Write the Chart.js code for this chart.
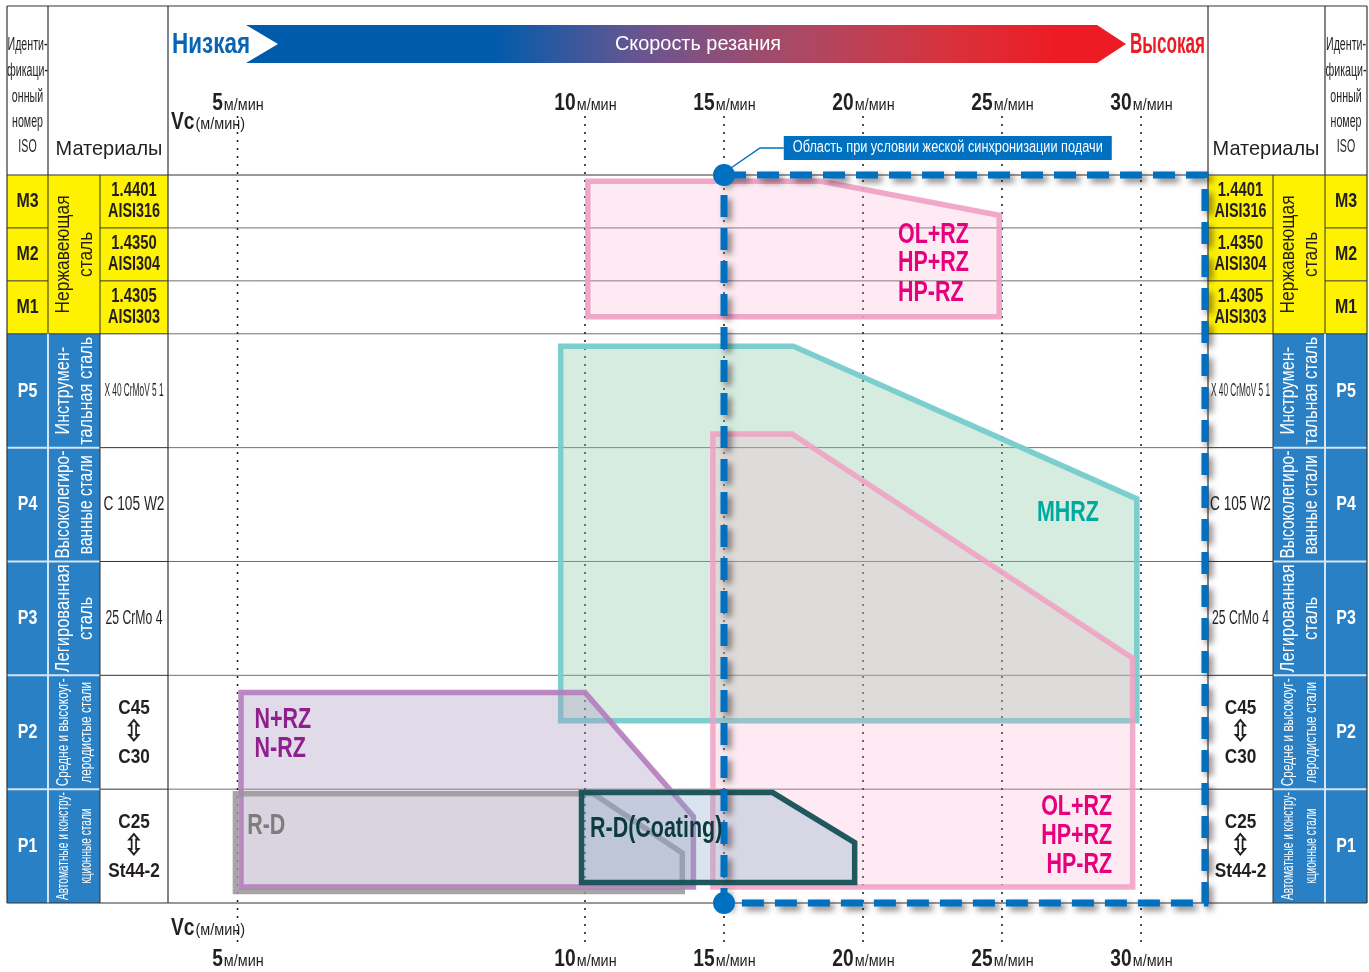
<!DOCTYPE html>
<html>
<head>
<meta charset="utf-8">
<title>Скорость резания</title>
<script src="https://cdn.jsdelivr.net/npm/chart.js@4"></script>
<style>
  html, body { margin: 0; padding: 0; background: #fff; }
  canvas { display: block; }
</style>
</head>
<body>
<canvas id="chart" width="1369" height="972"></canvas>
<script>
// скорость резания Vc, м/мин
const speedTicks = [5, 10, 15, 20, 25, 30];
// строки снизу вверх (строка = 1 единица по вертикали)
const isoCodes = ['P1', 'P2', 'P3', 'P4', 'P5', 'M1', 'M2', 'M3'];
const materialNames = [
  ['C25', '⇳', 'St44-2'], ['C45', '⇳', 'C30'], ['25 CrMo 4'], ['C 105 W2'], ['X 40 CrMoV 5 1'],
  ['1.4305', 'AISI303'], ['1.4350', 'AISI304'], ['1.4401', 'AISI316']
];
const groupRows = [[0, 1], [1, 2], [2, 3], [3, 4], [4, 5], [5, 8]];
const groupNames = [
  ['Автоматные и констру-', 'кционные стали'], ['Средне и высокоуг-', 'леродистые стали'],
  ['Легированная', 'сталь'], ['Высоколегиро-', 'ванные стали'], ['Инструмен-', 'тальная сталь'],
  ['Нержавеющая', 'сталь']
];
const isoHeader = ['Иденти-', 'фикаци-', 'онный', 'номер', 'ISO'];

// области применения: [скорость м/мин, строка]
const zoneOLTop = [[10.1, 5.32], [10.1, 7.88], [18.5, 7.88], [24.9, 7.24], [24.9, 5.32]];
const zoneMHRZ = [[9.65, 1.6], [9.65, 4.89], [17.5, 4.89], [29.85, 3.55], [29.85, 1.6]];
const zoneOL = [[14.6, 0.14], [14.6, 4.12], [17.45, 4.12], [29.7, 2.15], [29.7, 0.14]];
const zoneNRZ = [[5.05, 0.14], [5.05, 1.85], [10, 1.85], [13.9, 0.76], [13.9, 0.14]];
const zoneRD = [[4.97, 0.1], [4.97, 0.96], [10.3, 0.96], [13.5, 0.44], [13.5, 0.1]];
const zoneRDC = [[9.95, 0.18], [9.95, 0.97], [16.75, 0.97], [19.7, 0.53], [19.7, 0.18]];
const zoneSync = [[15, 8], [32.3, 8], [32.3, 0], [15, 0]];
const syncDots = [[15, 8], [15, 0]];

const FONT = '"Liberation Sans", Arial, sans-serif';
const BLUE = '#2a80c5', YELLOW = '#fff200', INK = '#231f20';

// ниже 10 м/мин шкала растянута в 2.5 раза, строки M уже строк P
function xPos(v) { return v >= 10 ? v : 10 - (10 - v) * 2.5; }
function yPos(r) { return r <= 5 ? r : 5 + (r - 5) * 0.465; }
function pts(list, close) {
  const p = list.map(([v, r]) => ({ x: xPos(v), y: yPos(r) }));
  if (close) p.push(p[0]);
  return p;
}

function measure(ctx, s, o) {
  ctx.save();
  ctx.font = (o.w || 'normal') + ' ' + o.size + 'px ' + (o.family || FONT);
  const w = ctx.measureText(s).width;
  ctx.restore();
  return w;
}
function txt(ctx, s, x, y, o) {
  ctx.save();
  ctx.translate(x, y);
  if (o.rot) ctx.rotate(o.rot);
  ctx.font = (o.w || 'normal') + ' ' + o.size + 'px ' + (o.family || FONT);
  let sx = o.sx || 1;
  if (o.fit) sx = o.fit / ctx.measureText(s).width;
  ctx.scale(sx, 1);
  ctx.fillStyle = o.color || INK;
  ctx.textAlign = o.align || 'center';
  ctx.textBaseline = o.base || 'middle';
  ctx.fillText(s, 0, 0);
  ctx.restore();
}
function line(ctx, x1, y1, x2, y2, color, w, dash) {
  ctx.save();
  ctx.strokeStyle = color; ctx.lineWidth = w;
  if (dash) ctx.setLineDash(dash);
  ctx.beginPath(); ctx.moveTo(x1, y1); ctx.lineTo(x2, y2); ctx.stroke();
  ctx.restore();
}
function cell(ctx, col, top, bot, color) {
  ctx.fillStyle = color;
  ctx.fillRect(col[0], top, col[1] - col[0], bot - top);
}
function unitText(ctx, big, small, x, base, align) {
  const w1 = measure(ctx, big, { w: 'bold', size: 24 }) * 0.8;
  const w2 = measure(ctx, small, { size: 17 }) * 0.85;
  const x0 = align === 'left' ? x : x - (w1 + w2) / 2;
  txt(ctx, big, x0, base, { w: 'bold', size: 24, sx: 0.8, align: 'left', base: 'alphabetic' });
  txt(ctx, small, x0 + w1 + 1, base, { size: 17, sx: 0.85, align: 'left', base: 'alphabetic' });
}

function drawSide(ctx, yb, c) {
  const top = yb(8), bot = yb(0);
  for (let i = 0; i < 8; i++) {
    const isM = i >= 5;
    cell(ctx, c.iso, yb(i + 1), yb(i), isM ? YELLOW : BLUE);
    cell(ctx, c.mat, yb(i + 1), yb(i), isM ? YELLOW : '#fff');
  }
  groupRows.forEach(([a, b]) => cell(ctx, c.grp, yb(b), yb(a), a >= 5 ? YELLOW : BLUE));
  for (let r = 1; r < 8; r++) {
    const y = yb(r);
    line(ctx, c.iso[0], y, c.iso[1], y, r < 5 ? '#d4e5f4' : '#333', r < 5 ? 2 : 1);
    line(ctx, c.mat[0], y, c.mat[1], y, '#333', 1);
    if (r < 5) line(ctx, c.grp[0], y, c.grp[1], y, '#d4e5f4', 2);
    if (r === 5) line(ctx, c.grp[0], y, c.grp[1], y, '#333', 1);
  }
  const inner = c.iso[0] < c.grp[0] ? c.iso[1] : c.iso[0];
  line(ctx, inner, top, inner, yb(5), '#333', 1);
  line(ctx, inner, yb(5), inner, bot, '#d4e5f4', 2);
  const gm = c.grp[0] < c.mat[0] ? c.grp[1] : c.grp[0];
  line(ctx, gm, top, gm, bot, '#333', 1);

  const ic = (c.iso[0] + c.iso[1]) / 2, gc = (c.grp[0] + c.grp[1]) / 2, mc = (c.mat[0] + c.mat[1]) / 2;
  for (let i = 0; i < 8; i++) {
    const isM = i >= 5, cy = (yb(i) + yb(i + 1)) / 2;
    txt(ctx, isoCodes[i], ic, cy, { w: 'bold', size: 21, sx: 0.76, color: isM ? INK : '#fff' });
    const m = materialNames[i];
    if (m.length === 3) {
      txt(ctx, m[0], mc, cy - 24, { w: 'bold', size: 21, sx: 0.82 });
      txt(ctx, m[1], mc, cy + 1, { w: 'bold', size: 30, family: '"DejaVu Sans"', sx: 0.85 });
      txt(ctx, m[2], mc, cy + 25, { w: 'bold', size: 21, sx: 0.82 });
    } else if (m.length === 2) {
      txt(ctx, m[0], mc, cy - 10.5, { w: 'bold', size: 20, sx: 0.74 });
      txt(ctx, m[1], mc, cy + 10.5, { w: 'bold', size: 20, sx: 0.72 });
    } else {
      const fit = { 2: 57, 3: 61, 4: 59 }[i];
      txt(ctx, m[0], mc, cy, { size: i === 4 ? 18 : 20, fit });
    }
  }
  groupRows.forEach(([a, b], g) => {
    const cy = (yb(a) + yb(b)) / 2, isM = a >= 5;
    const room = isM ? 118 : 108;
    const size = g < 2 ? 17 : 20;
    const w = Math.max(measure(ctx, groupNames[g][0], { size }), measure(ctx, groupNames[g][1], { size }));
    const o = { size, sx: Math.min(0.9, room / w), rot: -Math.PI / 2, color: isM ? INK : '#fff' };
    txt(ctx, groupNames[g][0], gc - 11, cy, o);
    txt(ctx, groupNames[g][1], gc + 12, cy, o);
  });
}

const frame = {
  id: 'frame',
  beforeDatasetsDraw(chart) {
    const ctx = chart.ctx, xs = chart.scales.x, ys = chart.scales.y, a = chart.chartArea;
    const yb = r => ys.getPixelForValue(yPos(r));
    ctx.save();
    drawSide(ctx, yb, { iso: [7, 48], grp: [48, 100], mat: [100, 168] });
    drawSide(ctx, yb, { iso: [1325, 1367], grp: [1273, 1325], mat: [1208, 1273] });

    // шапка таблицы
    const hy = [45, 71, 97, 122, 147];
    isoHeader.forEach((s, k) => {
      txt(ctx, s, 27.5, hy[k], { size: 19, sx: 0.56 });
      txt(ctx, s, 1346, hy[k], { size: 19, sx: 0.56 });
    });
    txt(ctx, 'Материалы', 109, 149, { size: 21, sx: 0.95 });
    txt(ctx, 'Материалы', 1266, 149, { size: 21, sx: 0.95 });

    // полоса «Скорость резания»
    const g = ctx.createLinearGradient(246, 0, 1126, 0);
    g.addColorStop(0, '#005bab'); g.addColorStop(0.28, '#005bab');
    g.addColorStop(0.45, '#6a5590'); g.addColorStop(0.62, '#a94a66');
    g.addColorStop(0.8, '#d8323c'); g.addColorStop(0.92, '#ed1c24'); g.addColorStop(1, '#ed1c24');
    ctx.fillStyle = g;
    ctx.beginPath();
    ctx.moveTo(246, 25); ctx.lineTo(1097, 25); ctx.lineTo(1126, 44); ctx.lineTo(1097, 63);
    ctx.lineTo(246, 63); ctx.lineTo(278, 44); ctx.closePath(); ctx.fill();
    txt(ctx, 'Скорость резания', 698, 44, { size: 21, fit: 166, color: '#fff' });
    txt(ctx, 'Низкая', 172, 45, { w: 'bold', size: 29, fit: 78, align: 'left', color: '#0a64b4' });
    txt(ctx, 'Высокая', 1130, 45, { w: 'bold', size: 29, fit: 75, align: 'left', color: '#ed1c24' });

    // линии строк в поле графика
    for (let r = 1; r < 8; r++) line(ctx, a.left, yb(r), a.right, yb(r), '#707070', 1);

    // рамка
    line(ctx, 7, 6, 1367, 6, '#333', 1.2);
    line(ctx, 7, a.top, 1367, a.top, '#333', 1.2);
    line(ctx, 7, a.bottom, 1367, a.bottom, '#333', 1.2);
    [7, 168, 1208, 1367].forEach(x => line(ctx, x, 6, x, a.bottom, '#333', 1.2));
    [48, 1325].forEach(x => line(ctx, x, 6, x, a.top, '#333', 1.2));

    // пунктирная сетка и подписи скоростей
    speedTicks.forEach(v => {
      const x = xs.getPixelForValue(xPos(v));
      line(ctx, x, 116, x, 942, '#222', 1.6, [2, 6]);
      unitText(ctx, String(v), 'м/мин', x, 110);
      unitText(ctx, String(v), 'м/мин', x, 966);
    });
    unitText(ctx, 'Vc', '(м/мин)', 171, 129, 'left');
    unitText(ctx, 'Vc', '(м/мин)', 171, 935, 'left');
    ctx.restore();
  },
  beforeDatasetDraw(chart, args) {
    const ctx = chart.ctx;
    ctx.save();
    if (chart.data.datasets[args.index].shadow) {
      ctx.shadowColor = 'rgba(40,30,30,0.55)';
      ctx.shadowBlur = 6; ctx.shadowOffsetX = 4; ctx.shadowOffsetY = 4;
    }
  },
  afterDatasetDraw(chart) { chart.ctx.restore(); },
  afterDatasetsDraw(chart) {
    const ctx = chart.ctx, xs = chart.scales.x, ys = chart.scales.y;
    const px = v => xs.getPixelForValue(xPos(v)), py = r => ys.getPixelForValue(yPos(r));
    const lab = { w: 'bold', size: 29, sx: 0.74 };
    ['OL+RZ', 'HP+RZ', 'HP-RZ'].forEach((s, k) => {
      txt(ctx, s, px(21.26), py([6.86, 6.33, 5.78][k]), { ...lab, align: 'left', color: '#e6007e' });
      txt(ctx, s, px(28.96), py([0.842, 0.588, 0.333][k]), { ...lab, align: 'right', color: '#e6007e' });
    });
    txt(ctx, 'MHRZ', px(27.37), py(3.43), { ...lab, color: '#00a99d' });
    txt(ctx, 'N+RZ', px(5.245), py(1.605), { ...lab, align: 'left', color: '#8e1f8c' });
    txt(ctx, 'N-RZ', px(5.245), py(1.35), { ...lab, align: 'left', color: '#8e1f8c' });
    txt(ctx, 'R-D', px(5.14), py(0.675), { ...lab, align: 'left', color: '#7d7d7d' });
    txt(ctx, 'R-D(Coating)', px(10.18), py(0.65), { ...lab, align: 'left', color: '#0b3b3e' });

    // выноска к области жесткой синхронизации
    const dx = px(15), dy = py(8), bx = px(17.15);
    ctx.save();
    ctx.strokeStyle = '#0070c0'; ctx.lineWidth = 1.5;
    ctx.beginPath(); ctx.moveTo(dx + 4, dy - 5); ctx.lineTo(dx + 36, dy - 27); ctx.lineTo(bx, dy - 27); ctx.stroke();
    ctx.fillStyle = '#0070c0';
    ctx.fillRect(bx, dy - 39, 328, 24);
    ctx.restore();
    txt(ctx, 'Область при условии жеской синхронизации подачи', bx + 164, dy - 27, { size: 16, fit: 310, color: '#fff' });
  }
};

function zone(list, stroke, fill, order) {
  return {
    data: pts(list, true), borderColor: stroke, backgroundColor: fill, borderWidth: 5.5,
    fill: 'shape', pointRadius: 0, tension: 0, borderJoinStyle: 'miter', borderCapStyle: 'square',
    clip: false, order
  };
}

new Chart(document.getElementById('chart'), {
  type: 'line',
  data: {
    datasets: [
      { data: pts(syncDots), showLine: false, pointRadius: 11, pointBackgroundColor: '#0070c0',
        pointBorderWidth: 0, clip: false, order: 0 },
      { data: pts(zoneSync, true), borderColor: '#0070c0', borderWidth: 7, borderDash: [22, 11],
        fill: false, pointRadius: 0, tension: 0, clip: false, shadow: true, order: 1 },
      zone(zoneRDC, 'rgba(22,80,86,0.95)', 'rgba(130,170,200,0.3)', 2),
      zone(zoneRD, 'rgba(150,150,152,0.85)', 'rgba(150,150,150,0.1)', 3),
      zone(zoneNRZ, 'rgba(180,125,188,0.9)', 'rgba(170,150,190,0.35)', 4),
      zone(zoneOL, 'rgba(240,160,195,0.85)', 'rgba(244,160,195,0.22)', 5),
      zone(zoneMHRZ, 'rgba(118,204,204,0.95)', 'rgba(140,200,170,0.35)', 6),
      zone(zoneOLTop, 'rgba(240,160,195,0.9)', 'rgba(244,160,195,0.22)', 7)
    ]
  },
  options: {
    responsive: false,
    devicePixelRatio: 1,
    animation: false,
    layout: { padding: { left: 168, right: 161, top: 175, bottom: 69 } },
    scales: {
      x: { type: 'linear', min: -5, max: 32.41, display: false },
      y: { type: 'linear', min: 0, max: yPos(8), display: false }
    },
    plugins: { legend: { display: false }, tooltip: { enabled: false } }
  },
  plugins: [frame]
});
</script>
</body>
</html>
